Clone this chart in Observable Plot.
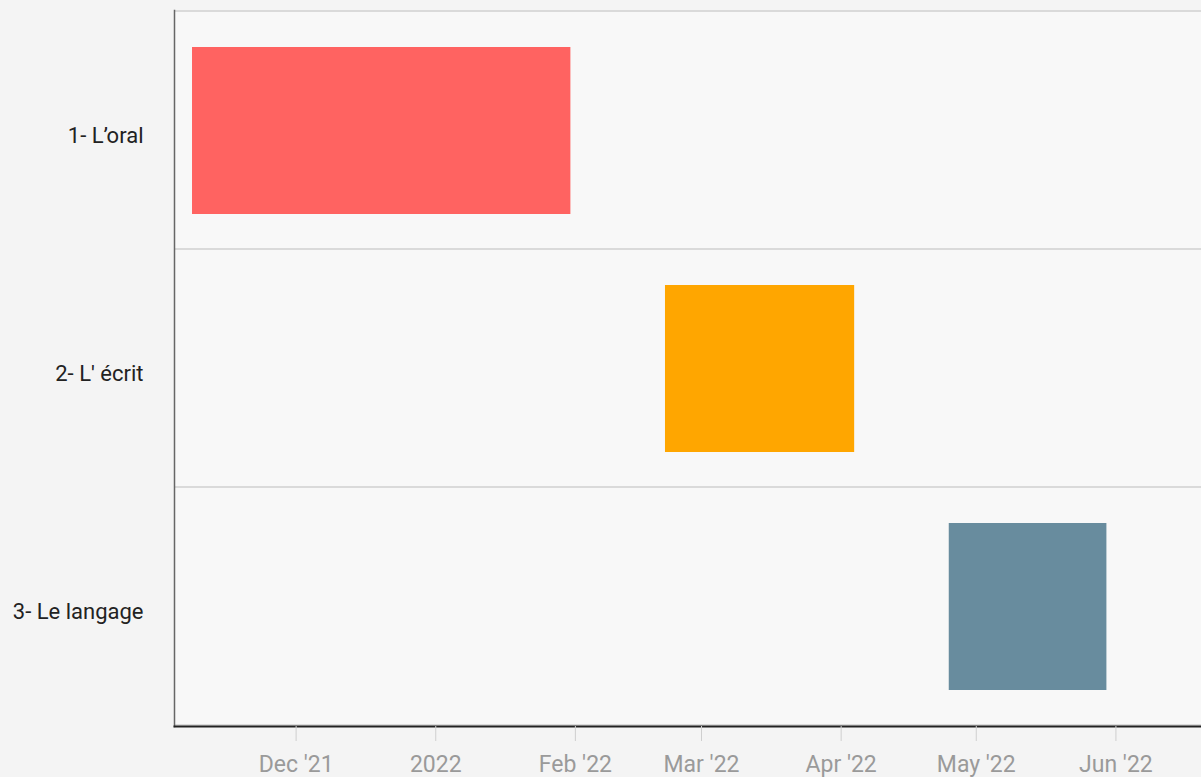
<!DOCTYPE html>
<html>
<head>
<meta charset="utf-8">
<script src="https://cdn.jsdelivr.net/npm/d3@7"></script>
<script src="https://cdn.jsdelivr.net/npm/@observablehq/plot@0.6"></script>
<style>
  html, body { margin: 0; padding: 0; background: #f4f4f4; }
  #chart svg { display: block; background: transparent; }
</style>
</head>
<body>
<div id="chart"></div>
<script>
// ---- data ----
const tasks = ["1- L’oral", "2- L' écrit", "3- Le langage"];
const starts = ["2021-11-08", "2022-02-21", "2022-04-25"];
const ends = ["2022-01-31", "2022-04-04", "2022-05-30"];
const colors = ["#ff6361", "#ffa600", "#688c9e"];
const tickDates = ["2021-12-01", "2022-01-01", "2022-02-01", "2022-03-01", "2022-04-01", "2022-05-01", "2022-06-01"];
const tickLabels = ["Dec '21", "2022", "Feb '22", "Mar '22", "Apr '22", "May '22", "Jun '22"];
const xDomain = ["2021-11-04", "2022-06-20"];

const parse = d3.utcParse("%Y-%m-%d");
const rows = tasks.map((t, i) => ({task: t, start: parse(starts[i]), end: parse(ends[i]), color: colors[i]}));
const ticks = tickDates.map(parse);
const labelOf = new Map(ticks.map((d, i) => [+d, tickLabels[i]]));
const dom = xDomain.map(parse);

const chart = Plot.plot({
  width: 1201,
  height: 777,
  marginLeft: 174,
  marginRight: 0,
  marginTop: 10,
  marginBottom: 51,
  style: {fontFamily: "Roboto, sans-serif", background: "transparent"},
  x: {type: "utc", domain: dom, label: null},
  y: {type: "band", domain: tasks, padding: 0, label: null},
  marks: [
    Plot.frame({fill: "#f8f8f8"}),
    // row separators
    Plot.barX(tasks, {
      y: d => d,
      x1: () => d3.utcDay.offset(dom[0], -30),
      x2: () => d3.utcDay.offset(dom[1], 30),
      fill: "none",
      stroke: "#dadada",
      strokeWidth: 2,
      clip: true
    }),
    Plot.barX(rows, {
      y: "task",
      x1: "start",
      x2: "end",
      fill: "color",
      insetTop: 36,
      insetBottom: 35
    }),
    Plot.frame({anchor: "left", stroke: "#666", strokeWidth: 1.5}),
    Plot.frame({anchor: "bottom", stroke: "#222", strokeWidth: 2}),
    Plot.axisY({
      label: null,
      tickSize: 0,
      tickPadding: 31,
      fontSize: 22,
      fill: "#222",
      dy: 5
    }),
    Plot.axisX({
      label: null,
      ticks: ticks,
      tickSize: 15,
      tickPadding: 14,
      stroke: "#cfcfcf",
      fill: "#9a9a9a",
      fontSize: 23,
      tickFormat: d => labelOf.get(+d)
    })
  ]
});
document.getElementById("chart").append(chart);
</script>
</body>
</html>
